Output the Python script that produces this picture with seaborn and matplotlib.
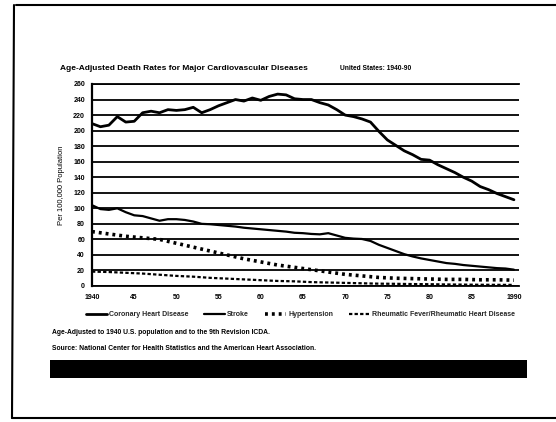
import matplotlib
matplotlib.use("Agg")
import matplotlib.pyplot as plt
from matplotlib.lines import Line2D
from matplotlib.patches import Rectangle
import numpy as np
import pandas as pd
import seaborn as sns

# Annual age-adjusted death rates per 100,000, United States
years = list(range(1940, 1991))
coronary = [209, 205, 207, 218, 211, 212, 223, 225, 223, 227,
            226, 227, 230, 223, 227, 232, 236, 240, 238, 242,
            239, 244, 247, 246, 241, 240, 240, 236, 233, 227,
            220, 218, 215, 211, 199, 188, 181, 174, 169, 163,
            162, 156, 151, 146, 140, 135, 128, 124, 119, 115,
            111]
stroke = [104, 99, 98, 100, 95, 91, 90, 87, 84, 86,
          86, 85, 83, 80, 79.5, 78.5, 77.5, 76.5, 75, 74,
          73, 72, 71, 70, 68.5, 68, 67, 66.5, 68, 65,
          62, 61, 60.5, 58, 53, 49, 45, 41, 38, 35.5,
          33.5, 31.5, 29.5, 28.5, 27, 26, 25, 24, 23, 22.5,
          21]

# Biennial series
years_2 = list(range(1940, 1991, 2))
hypertension = [70, 67, 64, 62, 60, 55, 50, 45, 40, 35,
                31, 27, 24, 21, 18, 15, 13, 11, 10, 9.5,
                9, 8.5, 8.5, 8, 8, 7.5]
rheumatic = [18.5, 18, 17, 16, 14.5, 13, 12, 10.5, 9.5, 8.5,
             7.5, 6.5, 6, 5, 4.5, 4, 3.5, 3, 2.8, 2.5,
             2.3, 2, 1.8, 1.6, 1.5, 1.4]

series_names = ["Coronary Heart Disease", "Stroke", "Hypertension",
                "Rheumatic Fever/Rheumatic Heart Disease"]
x_ticks = [1940, 1945, 1950, 1955, 1960, 1965, 1970, 1975, 1980, 1985, 1990]
x_tick_labels = ["1940", "45", "50", "55", "60", "65", "70", "75", "80", "85", "1990"]
y_ticks = list(range(0, 261, 20))

sns.set_theme(style="white")
plt.rcParams["font.family"] = ["Liberation Sans", "DejaVu Sans"]
plt.rcParams["font.weight"] = "bold"

W, H = 556, 422
fig = plt.figure(figsize=(W / 100, H / 100), dpi=100)
fig.patch.set_facecolor("white")


def fx(px):
    return px / W


def fy(py):
    return 1 - py / H


ax = fig.add_axes([fx(92), fy(286), fx(519) - fx(92), fy(84) - fy(286)])
ax.set_facecolor("white")

df_annual = pd.DataFrame({"year": years, "Coronary Heart Disease": coronary, "Stroke": stroke})
df_bi = pd.DataFrame({"year": years_2, "Hypertension": hypertension,
                      "Rheumatic Fever/Rheumatic Heart Disease": rheumatic})

sns.lineplot(data=df_annual, x="year", y="Coronary Heart Disease", ax=ax,
             color="black", linewidth=2.0, label=series_names[0])
sns.lineplot(data=df_annual, x="year", y="Stroke", ax=ax,
             color="black", linewidth=1.6, label=series_names[1])
sns.lineplot(data=df_bi, x="year", y="Hypertension", ax=ax,
             color="black", linewidth=2.6, linestyle=(0, (0.8, 1.1)),
             label=series_names[2])
sns.lineplot(data=df_bi, x="year", y="Rheumatic Fever/Rheumatic Heart Disease", ax=ax,
             color="black", linewidth=1.6, linestyle=(0, (1.5, 1.0)),
             label=series_names[3])

ax.set_xlim(1940, 1990.6)
ax.set_ylim(0, 260)
ax.set_yticks(y_ticks)
ax.set_yticklabels([str(v) for v in y_ticks])
ax.set_xticks(x_ticks)
ax.set_xticklabels(x_tick_labels)
ax.tick_params(axis="both", length=0, labelsize=5, colors="black")
ax.tick_params(axis="y", pad=5)
ax.tick_params(axis="x", pad=6)

ax.yaxis.grid(True, color="black", linewidth=1.3)
ax.xaxis.grid(False)
for side in ["top", "bottom"]:
    ax.spines[side].set_color("black")
    ax.spines[side].set_linewidth(1.3)
ax.spines["left"].set_color("black")
ax.spines["left"].set_linewidth(1.6)
ax.spines["right"].set_visible(False)

ax.set_xlabel("")
ax.set_ylabel("Per 100,000 Population", fontsize=5.5, color="black")
ax.yaxis.set_label_coords(-0.063, 0.5)

handles, labels = ax.get_legend_handles_labels()
ax.legend_.remove()
fig.legend(handles, labels, loc="center left", bbox_to_anchor=(fx(86), fy(315)),
           bbox_transform=fig.transFigure, ncol=4, frameon=False, fontsize=5,
           handlelength=3.0, handletextpad=0.3, columnspacing=2.3,
           borderaxespad=0, borderpad=0)

fig.text(fx(60), fy(68), "Age-Adjusted Death Rates for Major Cardiovascular Diseases",
         fontsize=6.0, va="center", ha="left", color="black")
fig.text(fx(340), fy(69), "United States: 1940-90",
         fontsize=4.8, va="center", ha="left", color="black")

fig.text(fx(52), fy(333), "Age-Adjusted to 1940 U.S. population and to the 9th Revision ICDA.",
         fontsize=4.9, va="center", ha="left", color="black")
fig.text(fx(52), fy(348), "Source: National Center for Health Statistics and the American Heart Association.",
         fontsize=4.9, va="center", ha="left", color="black")

# Black band beneath the notes
fig.add_artist(Rectangle((fx(50), fy(378)), fx(527) - fx(50), fy(360) - fy(378),
                         transform=fig.transFigure, facecolor="black", edgecolor="none"))

# Page border on the left, top and bottom
for (x0, y0, x1, y1) in [(16, 5, 556, 5), (14, 5, 12, 418), (12, 418, 556, 418)]:
    fig.add_artist(Line2D([fx(x0), fx(x1)], [fy(y0), fy(y1)], transform=fig.transFigure,
                          color="black", linewidth=1.5))

fig.savefig("out.png", dpi=100, facecolor="white")
